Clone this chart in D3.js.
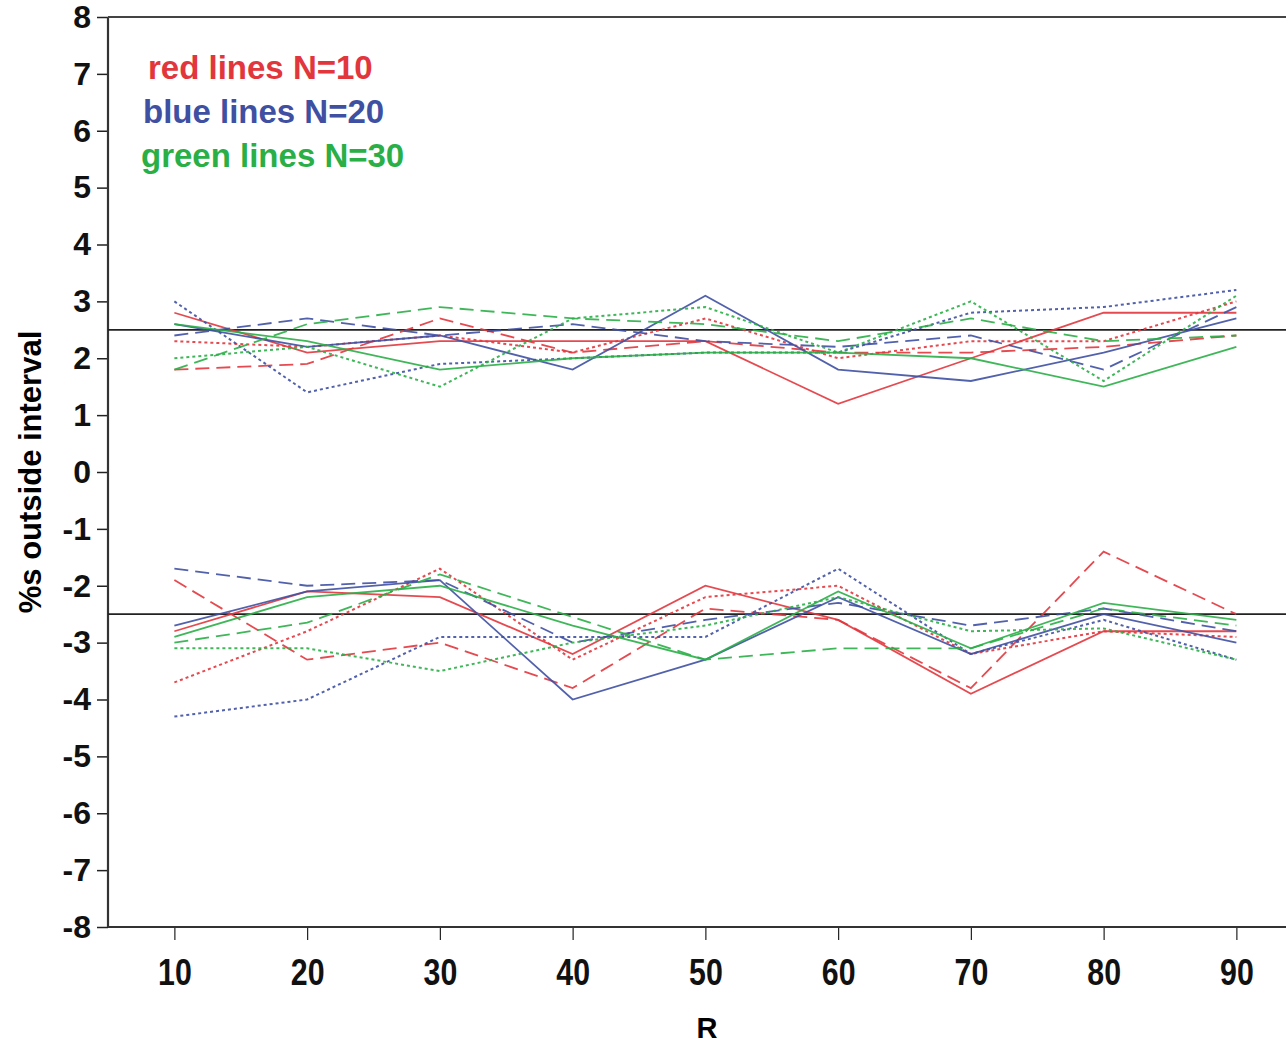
<!DOCTYPE html>
<html>
<head>
<meta charset="utf-8">
<script src="https://cdn.jsdelivr.net/npm/d3@7"></script>
<style>
  body { margin: 0; background: #fff; }
  svg { display: block; }
  .tick text { font-family: "Liberation Sans", Arial, sans-serif; font-weight: bold; }
</style>
</head>
<body>
<svg id="pict"></svg>
<script>
// x values (R)
const rValues = [10, 20, 30, 40, 50, 60, 70, 80, 90];
const yTicks = [8, 7, 6, 5, 4, 3, 2, 1, 0, -1, -2, -3, -4, -5, -6, -7, -8];
const refLevels = [2.5, -2.5];

// upper band (% above interval)
const redSolidUp   = [2.8, 2.1, 2.3, 2.3, 2.3, 1.2, 2.0, 2.8, 2.8];
const redDashUp    = [1.8, 1.9, 2.7, 2.1, 2.3, 2.1, 2.1, 2.2, 2.4];
const redDotUp     = [2.3, 2.2, 2.4, 2.1, 2.7, 2.0, 2.3, 2.3, 3.0];
const blueSolidUp  = [2.6, 2.2, 2.4, 1.8, 3.1, 1.8, 1.6, 2.1, 2.7];
const blueDashUp   = [2.4, 2.7, 2.4, 2.6, 2.3, 2.2, 2.4, 1.8, 2.9];
const blueDotUp    = [3.0, 1.4, 1.9, 2.0, 2.1, 2.1, 2.8, 2.9, 3.2];
const greenSolidUp = [2.6, 2.3, 1.8, 2.0, 2.1, 2.1, 2.0, 1.5, 2.2];
const greenDashUp  = [1.8, 2.6, 2.9, 2.7, 2.6, 2.3, 2.7, 2.3, 2.4];
const greenDotUp   = [2.0, 2.2, 1.5, 2.7, 2.9, 2.1, 3.0, 1.6, 3.1];

// lower band (% below interval)
const redSolidLow   = [-2.8, -2.1, -2.2, -3.2, -2.0, -2.6, -3.9, -2.8, -2.8];
const redDashLow    = [-1.9, -3.3, -3.0, -3.8, -2.4, -2.6, -3.8, -1.4, -2.5];
const redDotLow     = [-3.7, -2.8, -1.7, -3.3, -2.2, -2.0, -3.2, -2.8, -2.9];
const blueSolidLow  = [-2.7, -2.1, -1.9, -4.0, -3.3, -2.2, -3.2, -2.5, -3.0];
const blueDashLow   = [-1.7, -2.0, -1.9, -3.0, -2.6, -2.3, -2.7, -2.4, -2.8];
const blueDotLow    = [-4.3, -4.0, -2.9, -2.9, -2.9, -1.7, -3.2, -2.6, -3.3];
const greenSolidLow = [-2.9, -2.2, -2.0, -2.7, -3.3, -2.1, -3.1, -2.3, -2.6];
const greenDashLow  = [-3.0, -2.65, -1.8, -2.55, -3.3, -3.1, -3.1, -2.4, -2.7];
const greenDotLow   = [-3.1, -3.1, -3.5, -3.0, -2.7, -2.2, -2.8, -2.75, -3.3];

const legendLabels = ['red lines N=10', 'blue lines N=20', 'green lines N=30'];

const colors = { red: '#e2363d', blue: '#3f50a2', green: '#2aaf47' };
const dashes = { solid: null, dash: '14,7', dot: '3,3' };

const series = [
  ['red', 'solid', redSolidUp], ['red', 'dash', redDashUp], ['red', 'dot', redDotUp],
  ['blue', 'solid', blueSolidUp], ['blue', 'dash', blueDashUp], ['blue', 'dot', blueDotUp],
  ['green', 'solid', greenSolidUp], ['green', 'dash', greenDashUp], ['green', 'dot', greenDotUp],
  ['red', 'solid', redSolidLow], ['red', 'dash', redDashLow], ['red', 'dot', redDotLow],
  ['blue', 'solid', blueSolidLow], ['blue', 'dash', blueDashLow], ['blue', 'dot', blueDotLow],
  ['green', 'solid', greenSolidLow], ['green', 'dash', greenDashLow], ['green', 'dot', greenDotLow]
];

let chart = {
  width: 1286,
  height: 1045,
  padding: { left: 108, top: 17, bottom: 118 },
  xScale: null,
  yScale: null,

  drawAxis: (svg) => {
    const bottom = chart.height - chart.padding.bottom;
    chart.xScale = d3.scaleLinear()
      .domain([5, 95])
      .range([chart.padding.left, chart.padding.left + 90 * 13.275]);
    chart.yScale = d3.scaleLinear()
      .domain([-8, 8])
      .range([bottom, chart.padding.top]);

    // x axis, labels narrow like the original
    let axisX = d3.axisBottom(chart.xScale)
      .tickValues(rValues)
      .tickSize(13)
      .tickPadding(19)
      .tickFormat(d => d);
    let gx = svg.append('g')
      .attr('transform', `translate(0, ${bottom})`)
      .call(axisX);
    gx.select('.domain').remove();
    gx.selectAll('.tick line').attr('stroke', '#222').attr('stroke-width', 1.2);
    gx.selectAll('.tick text')
      .attr('font-size', 37)
      .attr('fill', '#111')
      .attr('transform', 'scale(0.82,1)');

    svg.append('line')
      .attr('x1', chart.padding.left).attr('x2', chart.width)
      .attr('y1', bottom).attr('y2', bottom)
      .attr('stroke', '#333').attr('stroke-width', 2.2);

    // y axis
    let axisY = d3.axisLeft(chart.yScale)
      .tickValues(yTicks)
      .tickSize(11)
      .tickPadding(6)
      .tickFormat(d => d);
    let gy = svg.append('g')
      .attr('transform', `translate(${chart.padding.left}, 0)`)
      .call(axisY);
    gy.select('.domain').remove();
    gy.selectAll('.tick line').attr('stroke', '#222').attr('stroke-width', 1.5);
    gy.selectAll('.tick text').attr('font-size', 32).attr('fill', '#111');

    svg.append('line')
      .attr('x1', chart.padding.left).attr('x2', chart.padding.left)
      .attr('y1', chart.padding.top).attr('y2', bottom)
      .attr('stroke', '#333').attr('stroke-width', 2.2);

    // top frame
    svg.append('line')
      .attr('x1', chart.padding.left).attr('x2', chart.width)
      .attr('y1', chart.padding.top).attr('y2', chart.padding.top)
      .attr('stroke', '#444').attr('stroke-width', 2);

    // axis titles
    svg.append('text')
      .attr('x', 707).attr('y', 1038)
      .attr('text-anchor', 'middle')
      .attr('font-family', '"Liberation Sans", Arial, sans-serif')
      .attr('font-weight', 'bold')
      .attr('font-size', 29)
      .text('R');
    svg.append('text')
      .attr('transform', `translate(41, ${chart.yScale(0)}) rotate(-90)`)
      .attr('text-anchor', 'middle')
      .attr('font-family', '"Liberation Sans", Arial, sans-serif')
      .attr('font-weight', 'bold')
      .attr('font-size', 31)
      .text('%s outside interval');
  },

  drawRefLines: (svg) => {
    svg.append('g').selectAll('line')
      .data(refLevels)
      .join('line')
      .attr('x1', chart.padding.left).attr('x2', chart.width)
      .attr('y1', d => chart.yScale(d)).attr('y2', d => chart.yScale(d))
      .attr('stroke', '#222').attr('stroke-width', 1.8);
  },

  drawLines: (svg) => {
    let line = d3.line()
      .x((d, i) => chart.xScale(rValues[i]))
      .y(d => chart.yScale(d));
    svg.append('g').selectAll('path')
      .data(series)
      .join('path')
      .attr('d', d => line(d[2]))
      .attr('fill', 'none')
      .attr('stroke', d => colors[d[0]])
      .attr('stroke-width', d => d[1] === 'dot' ? 2 : 1.8)
      .attr('stroke-dasharray', d => dashes[d[1]])
      .attr('opacity', 0.9);
  },

  drawLegend: (svg) => {
    const legendColors = [colors.red, colors.blue, colors.green];
    const legendX = [148, 143, 141];
    svg.append('g').selectAll('text')
      .data(legendLabels)
      .join('text')
      .attr('x', (d, i) => legendX[i])
      .attr('y', (d, i) => 79 + i * 44)
      .attr('font-family', '"Liberation Sans", Arial, sans-serif')
      .attr('font-weight', 'bold')
      .attr('font-size', 33)
      .attr('fill', (d, i) => legendColors[i])
      .text(d => d);
  },

  drawMain: () => {
    let svg = d3.select('#pict')
      .attr('width', chart.width)
      .attr('height', chart.height);
    chart.drawAxis(svg);
    chart.drawRefLines(svg);
    chart.drawLines(svg);
    chart.drawLegend(svg);
  }
};

chart.drawMain();
</script>
</body>
</html>
